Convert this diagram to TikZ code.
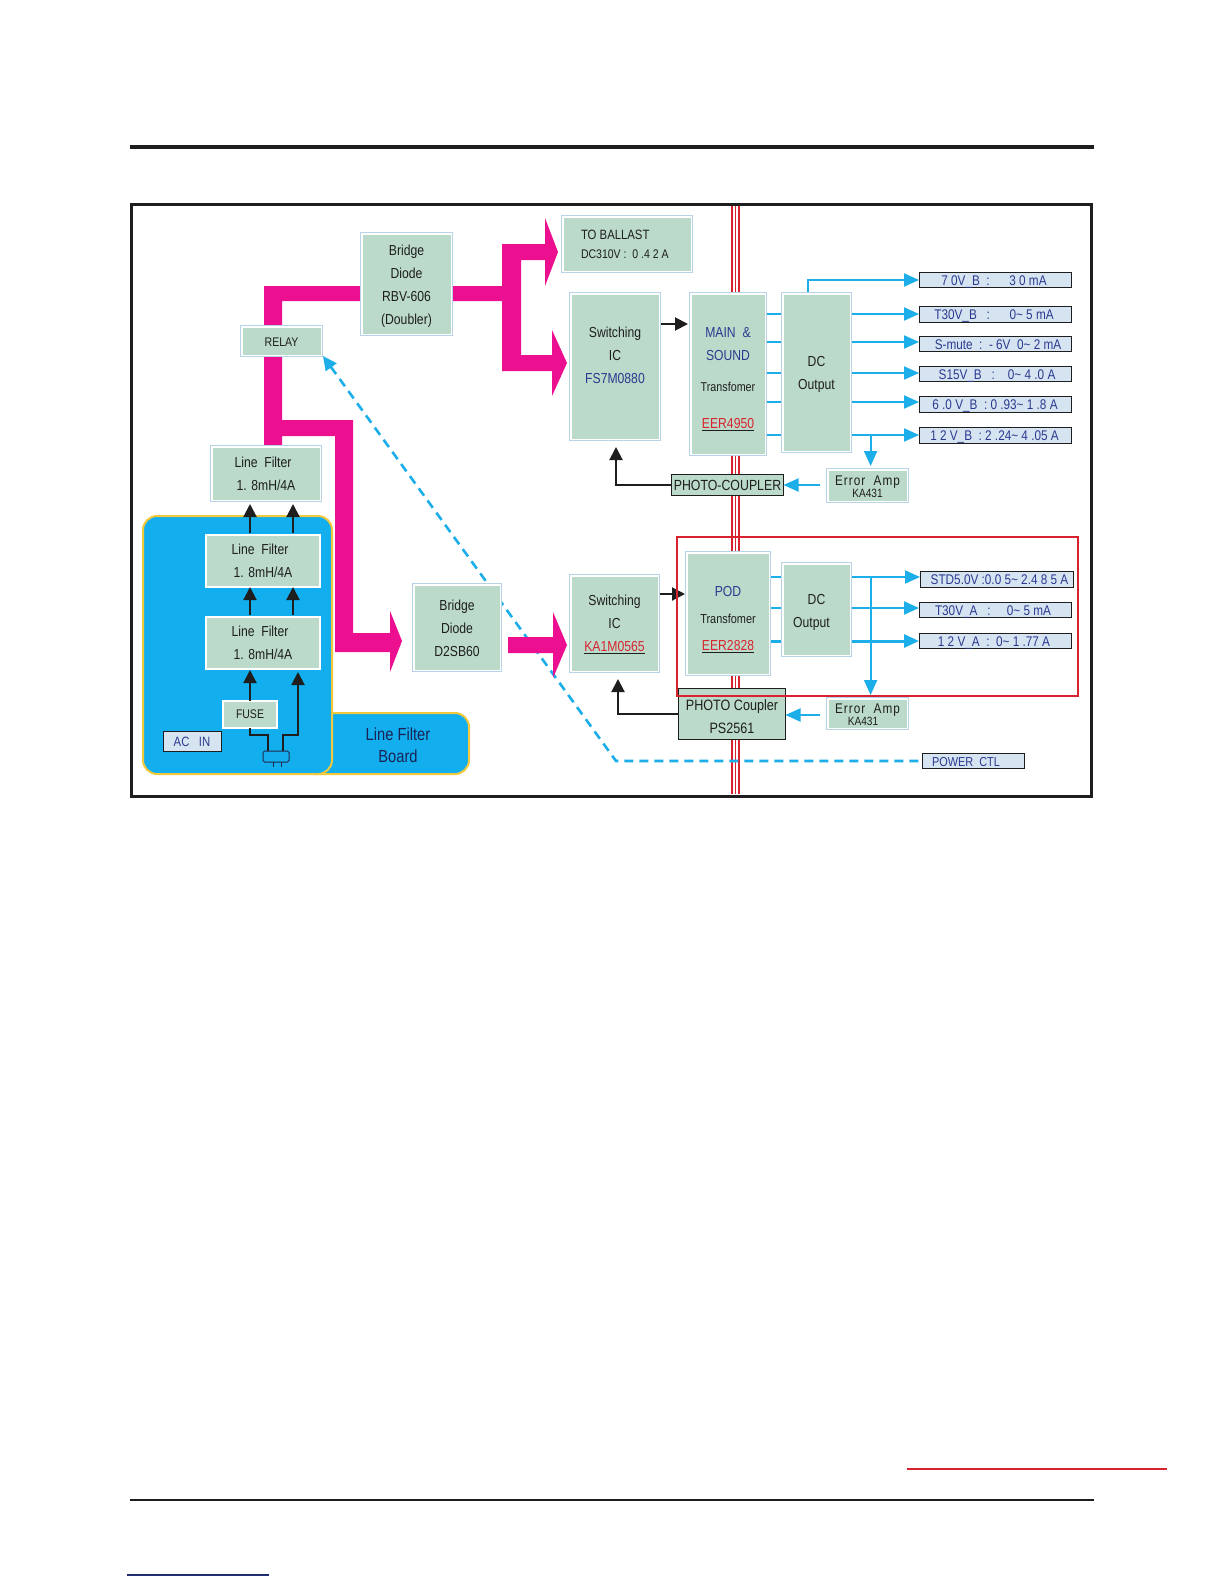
\documentclass[tikz,border=0pt]{standalone}
\usepackage{fontspec}
\setmainfont[FakeStretch=0.84]{Liberation Sans}
\usetikzlibrary{arrows.meta}
\definecolor{pinkc}{HTML}{EC1090}
\definecolor{cyanc}{HTML}{1CAEE8}
\definecolor{boardc}{HTML}{12AEEE}
\definecolor{goldc}{HTML}{F2C83C}
\definecolor{greenc}{HTML}{BBDACA}
\definecolor{edgec}{HTML}{B8D2E6}
\definecolor{labelc}{HTML}{D6E4F2}
\definecolor{navyc}{HTML}{2B3A8F}
\definecolor{redc}{HTML}{D8232E}
\definecolor{inkc}{HTML}{1E1E1E}
\newcommand{\redul}[1]{\underline{\smash{\textcolor{redc}{#1}}}}
\newcommand{\tl}{\textasciitilde}
\newcommand{\errfont}{\addfontfeature{LetterSpace=7}}
\tikzset{
 x=1pt,y=-1pt,
 wbox/.style={fill=greenc,draw=white,line width=2.4pt,inner sep=0pt,outer sep=0pt,align=center,font=\fontsize{14.5}{23}\selectfont,text=inkc},
 kbox/.style={fill=greenc,draw=inkc,line width=1.3pt,inner sep=0pt,outer sep=0pt,align=center,font=\fontsize{15}{23}\selectfont,text=inkc},
 lbox/.style={fill=labelc,draw=inkc,line width=0.9pt,inner sep=0pt,outer sep=0pt,font=\fontsize{14}{14}\selectfont,text=navyc,text height=10pt,text depth=0pt},
 cflow/.style={draw=cyanc,line width=2pt},
 carrow/.style={draw=cyanc,line width=2pt,-{Triangle[length=15pt,width=13pt,fill=cyanc]}},
 karrow/.style={draw=inkc,line width=2pt,-{Triangle[length=13pt,width=13pt,fill=inkc]}},
 pinkf/.style={fill=pinkc,draw=none},
 dashl/.style={draw=cyanc,line width=2.6pt,dash pattern=on 9pt off 6pt},
 redv/.style={draw=redc,line width=1.1pt},
}
% [text y-shift] name x1 y1 x2 y2 text
\newcommand{\gb}[7][0]{%
 \fill[edgec] (#3,#4) rectangle (#5,#6);
 \fill[white] (#3+0.8,#4+0.8) rectangle (#5-0.8,#6-0.8);
 \node[fill=greenc,inner sep=0pt,outer sep=2pt,minimum width=#5-#3-5,minimum height=#6-#4-5] (#2) at ({(#3+#5)/2},{(#4+#6)/2}) {};
 \node[inner sep=0pt,align=center,font=\fontsize{14.5}{23}\selectfont,text=inkc] (#2t) at ({(#3+#5)/2},{(#4+#6)/2+#1}) {#7};}
\begin{document}
\begin{tikzpicture}
\useasboundingbox (0,0) rectangle (1224,1584);
\fill[white] (0,0) rectangle (1224,1584);
% page rules
\coordinate (tl) at (130,147); \coordinate (tr) at (1094,147);
\draw[inkc,line width=4pt] (tl) -- (tr);
\coordinate (bl) at (130,1500); \coordinate (br) at (1094,1500);
\draw[inkc,line width=2pt] (bl) -- (br);
\coordinate (rl) at (907,1469); \coordinate (rr) at (1167,1469);
\draw[redc,line width=2.2pt] (rl) -- (rr);
\coordinate (ul) at (127,1575); \coordinate (ur) at (269,1575);
\draw[navyc!80!black,line width=1.2pt] (ul) -- (ur);
% frame
\draw[inkc,line width=3pt] (131.5,204.5) rectangle (1091,796);
% red transformer isolation lines
\foreach \x in {732,735.5,739}{\draw[redv] (\x,206) -- (\x,794);}
% board
\fill[boardc,draw=goldc,line width=2pt,rounded corners=14pt] (300,713) -- (469,713) -- (469,774) -- (300,774) -- cycle;
\fill[boardc,draw=goldc,line width=2pt,rounded corners=14pt] (143,516) rectangle (332,774);
\node[font=\fontsize{17.5}{22}\selectfont,text=navyc!60!black,align=center] (boardt) at (398,745) {Line Filter\\Board};
% dashed control
\coordinate (cor) at (616,761);
\draw[dashl,{Triangle[length=14pt,width=13pt,fill=cyanc,sep=0pt]}-] (323,356) -- (cor) -- (922,761);
% pink bus
\fill[pinkf] (264,286) -- (360,286) -- (360,301) -- (282,301) -- (282,420) -- (353,420) -- (353,633) -- (390,633) -- (390,611) -- (402,641) -- (390,672) -- (390,652) -- (335,652) -- (335,436) -- (282,436) -- (282,450) -- (264,450) -- cycle;
\fill[pinkf] (453,286) -- (502,286) -- (502,244) -- (545,244) -- (545,218) -- (558,252) -- (545,286) -- (545,260) -- (521,260) -- (521,355) -- (552,355) -- (552,330) -- (567,363) -- (552,396) -- (552,371) -- (502,371) -- (502,301) -- (453,301) -- cycle;
\fill[pinkf] (508,637) -- (553,637) -- (553,612) -- (567,645) -- (553,678) -- (553,653) -- (508,653) -- cycle;
% boxes
\gb[2]{rbv}{360}{232}{453}{336}{Bridge\\Diode\\RBV-606\\(Doubler)}
\gb[1]{relay}{240}{325}{323}{357}{\fontsize{12.5}{14}\selectfont RELAY}
\gb{lf1}{210}{445}{322}{502}{\hspace*{-6pt}Line\ \ Filter\\1. 8mH/4A}
\gb{ball}{561}{215}{693}{273}{\fontsize{13.5}{19}\selectfont\makebox[92pt][l]{TO BALLAST}\\[-4pt]\fontsize{12.5}{19}\selectfont\makebox[92pt][l]{DC310V :\ \ 0 .4 2 A}}
\gb[-11]{sw1}{569}{292}{661}{441}{Switching\\IC\\\textcolor{navyc}{FS7M0880}}
\gb[5]{main}{689}{292}{767}{456}{\textcolor{navyc}{MAIN\ \ \&}\\\textcolor{navyc}{SOUND}\\[8pt]\fontsize{12.8}{23}\selectfont Transfomer\\[14pt]\redul{EER4950}}
\gb[2]{dc1}{781}{292}{852}{453}{DC\\Output}
\gb[1]{err1}{826}{468}{909}{503}{\fontsize{14}{13}\selectfont\errfont Error\ \ Amp\\[-11pt]\fontsize{12}{11}\selectfont KA431}
\gb[1]{d2}{412}{583}{502}{672}{Bridge\\Diode\\D2SB60}
\gb[1]{sw2}{569}{574}{660}{673}{Switching\\IC\\\redul{KA1M0565}}
\gb[6]{pod}{685}{551}{771}{676}{\textcolor{navyc}{POD}\\[4pt]\fontsize{13}{23}\selectfont Transfomer\\[4pt]\redul{EER2828}}
\gb[3]{dc2}{781}{562}{852}{657}{DC\\\hspace*{-10pt}Output}
\gb[1.5]{err2}{826}{697}{909}{730}{\fontsize{14}{13}\selectfont\errfont Error\ \ Amp\\[-11pt]\fontsize{12}{11}\selectfont\hspace*{-9pt}KA431}
% filters on board
\node[wbox,minimum width=114,minimum height=52] (lf2) at (263,561) {\hspace*{-6pt}Line\ \ Filter\\1. 8mH/4A};
\node[wbox,minimum width=114,minimum height=52] (lf3) at (263,643) {\hspace*{-6pt}Line\ \ Filter\\1. 8mH/4A};
\node[wbox,minimum width=54,minimum height=27,font=\fontsize{12.5}{14}\selectfont] (fuse) at (250,714.5) {FUSE};
\node[lbox,minimum width=58,minimum height=20,font=\fontsize{13.5}{14}\selectfont] (acin) at (192,741) {AC\ \ \ IN};
% black arrows on board
\coordinate (a1) at (250,504); \coordinate (a2) at (293,504);
\coordinate (b1) at (250,587); \coordinate (b2) at (293,587);
\coordinate (c1) at (250,670); \coordinate (c2) at (298,672);
\draw[karrow] (250,533) -- (a1); \draw[karrow] (293,533) -- (a2);
\draw[karrow] (250,615) -- (b1); \draw[karrow] (293,615) -- (b2);
\draw[karrow] (fuse.north) -- (c1);
\coordinate (plugl) at (268,751); \coordinate (plugr) at (283,751);
\draw[karrow] (plugr) -- (283,735) -- (298,735) -- (c2);
\draw[inkc,line width=2pt] (fuse.south) -- (250,735) -- (268,735) -- (plugl);
\draw[inkc!60!navyc,line width=1pt,rounded corners=1.5pt] (263,762) -- (263,751) -- (289,751) -- (289,762) -- cycle;
\draw[inkc!60!navyc,line width=1pt] (273,762) -- (273,767) (281,762) -- (281,767);
% output labels
\newcommand{\outl}[4]{\node[lbox,minimum width=152,minimum height=15.5] (#1) at (995,#2) {\hspace*{#3}#4};}
\outl{o1}{280}{-2pt}{7 0V\_B\ \ :\ \ \ \ \ \ 3 0 mA}
\outl{o2}{314.5}{-2pt}{T30V\_B\ \ \ :\ \ \ \ \ \ 0\tl\ 5 mA}
\outl{o3}{344}{6pt}{S-mute\ \ :\ \ -\ 6V\ \ 0\tl\ 2 mA}
\outl{o4}{374}{4pt}{S15V\_B\ \ \ :\ \ \ \ 0\tl\ 4 .0 A}
\outl{o5}{404.5}{0pt}{6 .0 V\_B\ \ :\ 0 .93\tl\ 1 .8 A}
\outl{o6}{435.5}{-1pt}{1 2 V\_B\ \ :\ 2 .24\tl\ 4 .05 A}
\node[lbox,minimum width=153,minimum height=15.5] (o7) at (996.5,579.5) {\hspace*{6pt}STD5.0V\ :0.0 5\tl\ 2.4 8 5 A};
\outl{o8}{610}{-4pt}{T30V\_A\ \ \ :\ \ \ \ \ 0\tl\ 5 mA}
\outl{o9}{641}{-2pt}{1 2 V\_A\ \ :\ \ 0\tl\ 1 .77 A}
\node[lbox,minimum width=102,minimum height=15.5,font=\fontsize{13}{14}\selectfont] (pctl) at (973,761) {\hspace*{-14pt}POWER\ \ CTL};
% cyan rails
\foreach \y/\t in {314/o2,342/o3,373/o4,402/o5,435/o6}{
 \draw[cflow] (767,\y) -- (781,\y);
 \draw[carrow] (852,\y) -- (\t.west |- 0,\y);}
\coordinate (dc1t) at (808,292);
\draw[carrow] (dc1t) -- (808,280) -- (o1.west);
\draw[carrow] (870.6,435) -- (870.6,466);
\foreach \y/\t/\w in {577/o7/2,608/o8/2,641/o9/3}{
 \draw[cflow,line width=\w pt] (771,\y) -- (781,\y);
 \draw[carrow,line width=\w pt] (852,\y) -- (\t.west |- 0,\y);}
\draw[carrow] (870.6,577) -- (870.6,695);
% photo couplers
\node[kbox,minimum width=112,minimum height=21,font=\fontsize{14.7}{16}\selectfont] (pc1) at (727.5,485) {PHOTO-COUPLER};
\node[kbox,minimum width=107,minimum height=51,text depth=0pt] (pc2) at (732,714) {\rule{0pt}{15pt}PHOTO Coupler\\PS2561};
\draw[carrow] (820,485) -- (pc1.east);
\draw[carrow] (820,715) -- (pc2.east |- 0,715);
\draw[karrow] (pc1.west) -- (616,485) -- (616,447);
\draw[karrow] (pc2.west |- 0,714) -- (618,714) -- (618,679);
\draw[karrow] (661,324) -- (688,324);
\draw[karrow] (660,594) -- (685,594);
% red box
\draw[redc,line width=2pt] (677,537) rectangle (1078,696);
\end{tikzpicture}
\end{document}
